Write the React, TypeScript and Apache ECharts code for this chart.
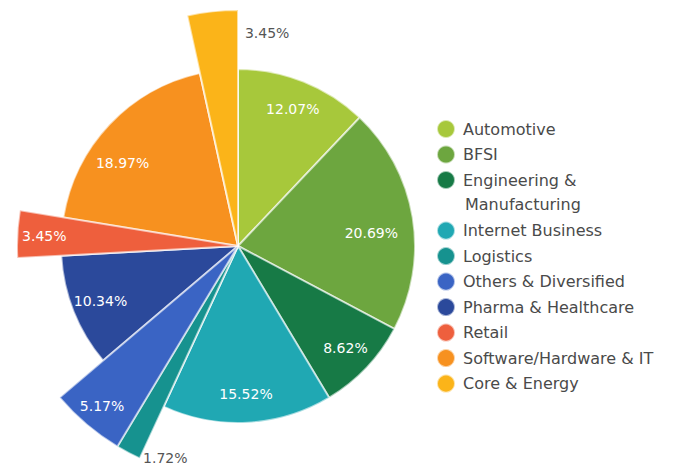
import React, { useEffect, useRef } from 'react';
import * as echarts from 'echarts';

// ---------- data ----------
const categories = [
  'Automotive',
  'BFSI',
  'Engineering & Manufacturing',
  'Internet Business',
  'Logistics',
  'Others & Diversified',
  'Pharma & Healthcare',
  'Retail',
  'Software/Hardware & IT',
  'Core & Energy',
];
const shares = [12.07, 20.69, 8.62, 15.52, 1.72, 5.17, 10.34, 3.45, 18.97, 3.45];

// ---------- styles / layout ----------
const colors = [
  '#a7c83b',
  '#6da63f',
  '#177a46',
  '#20a8b3',
  '#16928f',
  '#3a64c4',
  '#2b499b',
  '#ee5f3d',
  '#f7911f',
  '#fbb419',
];
const FONT = 'DejaVu Sans';
const TEXT = '#4a4a4a';
const CENTER: [number, number] = [238, 246];
const BASE_R = 177;
const extended: { name: string; r: number }[] = [
  { name: 'Logistics', r: 234 },
  { name: 'Others & Diversified', r: 234 },
  { name: 'Retail', r: 221 },
  { name: 'Core & Energy', r: 236 },
];
// label placement: radial distance and angular shift (deg, clockwise)
const labelSpecs: { names: string[]; r: number; shift: number; color: string }[] = [
  { names: ['Automotive', 'Engineering & Manufacturing', 'Internet Business', 'Pharma & Healthcare'], r: 145, shift: 0, color: '#ffffff' },
  { names: ['BFSI'], r: 131, shift: 3.6, color: '#ffffff' },
  { names: ['Software/Hardware & IT'], r: 139, shift: -7.8, color: '#ffffff' },
  { names: ['Retail'], r: 191, shift: 0, color: '#ffffff' },
  { names: ['Others & Diversified'], r: 207, shift: 0, color: '#ffffff' },
  { names: ['Core & Energy'], r: 212, shift: 14, color: '#555555' },
  { names: ['Logistics'], r: 221, shift: -9, color: '#555555' },
];

const TRANSPARENT = 'rgba(0,0,0,0)';
const BORDER = { borderColor: 'rgba(255,255,255,0.6)', borderWidth: 2 };

function basePie(radius: number) {
  return {
    type: 'pie',
    silent: true,
    center: CENTER,
    radius: [0, radius],
    startAngle: 90,
    clockwise: true,
    label: { show: false },
    labelLine: { show: false },
    emphasis: { disabled: true },
  };
}

function buildOption() {
  const series: any[] = [];
  series.push({
    ...basePie(BASE_R),
    itemStyle: BORDER,
    data: categories.map((n, i) => ({ name: n, value: shares[i], itemStyle: { color: colors[i] } })),
  });
  extended.forEach((ex) => {
    series.push({
      ...basePie(ex.r),
      itemStyle: BORDER,
      data: categories.map((n, i) => ({
        name: n,
        value: shares[i],
        itemStyle: n === ex.name ? { color: colors[i] } : { color: TRANSPARENT, borderWidth: 0 },
      })),
    });
  });
  labelSpecs.forEach((sp) => {
    series.push({
      ...basePie(sp.r * 2),
      startAngle: 90 - sp.shift,
      z: 10,
      itemStyle: { color: TRANSPARENT, borderWidth: 0 },
      label: {
        show: true,
        position: 'inside',
        color: sp.color,
        fontSize: 14,
        fontFamily: FONT,
        formatter: (p: any) => Number(p.value).toFixed(2) + '%',
      },
      data: categories.map((n, i) => ({
        name: n,
        value: shares[i],
        label: { show: sp.names.includes(n) },
      })),
    });
  });

  const legendCommon = {
    orient: 'vertical',
    left: 436,
    padding: 0,
    itemWidth: 24,
    itemHeight: 18,
    itemGap: 5.5,
    icon: 'circle',
    selectedMode: false,
    textStyle: { color: TEXT, fontSize: 16, fontFamily: FONT, lineHeight: 18 },
  };
  const legendData = categories.map((n, i) => ({ name: n, itemStyle: { color: colors[i] } }));

  return {
    animation: false,
    backgroundColor: '#ffffff',
    legend: [
      {
        ...legendCommon,
        top: 119,
        data: legendData.slice(0, 3),
        formatter: (n: string) => (n === 'Engineering & Manufacturing' ? 'Engineering &' : n),
      },
      {
        ...legendCommon,
        top: 220.6,
        data: legendData.slice(3),
      },
    ],
    graphic: [
      {
        type: 'text',
        x: 465,
        y: 204.2,
        silent: true,
        style: {
          text: 'Manufacturing',
          fill: TEXT,
          fontSize: 16,
          fontFamily: FONT,
          align: 'left',
          verticalAlign: 'middle',
        },
      },
    ],
    series,
  };
}

export default function App() {
  const ref = useRef<HTMLDivElement>(null);
  useEffect(() => {
    if (!ref.current) return;
    const chart = echarts.init(ref.current, undefined, { renderer: 'svg' });
    chart.setOption(buildOption() as any);
    return () => chart.dispose();
  }, []);
  return (
    <div
      ref={ref}
      style={{ position: 'absolute', left: 0, top: 0, width: 681, height: 465, background: '#fff' }}
    />
  );
}
